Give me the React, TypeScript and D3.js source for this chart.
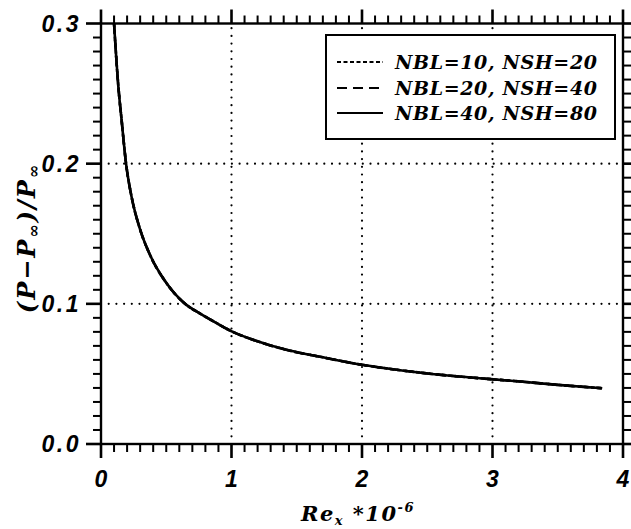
import React from "react";
import * as d3 from "d3";

// Re_x * 1e-6 values and (P - Pinf)/Pinf
const rex = [0.10, 0.133, 0.158, 0.192, 0.235, 0.30, 0.375, 0.50, 0.644, 0.76, 0.89, 1.01, 1.17, 1.42, 1.68, 2.0, 2.32, 2.7, 3.01, 3.21, 3.5, 3.84];
const cpNbl10 = [0.300, 0.255, 0.231, 0.200, 0.176, 0.153, 0.135, 0.115, 0.100, 0.093, 0.086, 0.080, 0.0742, 0.0672, 0.0622, 0.0565, 0.0523, 0.0485, 0.0461, 0.0446, 0.0422, 0.0398];
const cpNbl20 = [0.300, 0.255, 0.231, 0.200, 0.176, 0.153, 0.135, 0.115, 0.100, 0.093, 0.086, 0.080, 0.0742, 0.0672, 0.0622, 0.0565, 0.0523, 0.0485, 0.0461, 0.0446, 0.0422, 0.0398];
const cpNbl40 = [0.300, 0.255, 0.231, 0.200, 0.176, 0.153, 0.135, 0.115, 0.100, 0.093, 0.086, 0.080, 0.0742, 0.0672, 0.0622, 0.0565, 0.0523, 0.0485, 0.0461, 0.0446, 0.0422, 0.0398];

const seriesNames = ["NBL=10, NSH=20", "NBL=20, NSH=40", "NBL=40, NSH=80"];
const seriesDash = ["4,2.5", "10,6", ""];

const xTicks = [0, 1, 2, 3, 4];
const xTickLabels = ["0", "1", "2", "3", "4"];
const yTicks = [0.0, 0.1, 0.2, 0.3];
const yTickLabels = ["0.0", "0.1", "0.2", "0.3"];

const W = 631, H = 529;
const L = 101, R = 623, T = 23.5, B = 444;

export default function App() {
  const xs = d3.scaleLinear().domain([0, 4]).range([L, R]);
  const ys = d3.scaleLinear().domain([0, 0.3]).range([B, T]);
  const lineGen = d3
    .line<[number, number]>()
    .x((d) => xs(d[0]))
    .y((d) => ys(d[1]))
    .curve(d3.curveMonotoneX);
  const series = [cpNbl10, cpNbl20, cpNbl40].map((arr) => rex.map((v, i) => [v, arr[i]] as [number, number]));

  const xMinor = xs.ticks(40);
  const yMinor = ys.ticks(30);

  const tickRects: any[] = [];
  xMinor.forEach((v, i) => {
    const major = i % 10 === 0;
    const len = major ? 14 : 8;
    const w = major ? 2.6 : 2;
    const px = xs(v);
    tickRects.push(<rect key={"xb" + i} x={px - w / 2} y={B} width={w} height={len} fill="#000" />);
    tickRects.push(<rect key={"xt" + i} x={px - w / 2} y={T - len} width={w} height={len} fill="#000" />);
  });
  yMinor.forEach((v, i) => {
    const major = i % 10 === 0;
    const len = major ? 15 : 8;
    const w = major ? 2.6 : 2;
    const py = ys(v);
    tickRects.push(<rect key={"yl" + i} x={L - len} y={py - w / 2} width={len} height={w} fill="#000" />);
    tickRects.push(<rect key={"yr" + i} x={R} y={py - w / 2} width={len} height={w} fill="#000" />);
  });

  const tickFont = "'Liberation Sans', Arial, sans-serif";
  const serif = "'DejaVu Serif', serif";

  const legX = 326, legY = 35, legW = 289, legH = 104;
  const rowY = [62, 88, 113];

  return (
    <svg width={W} height={H} style={{ position: "absolute", left: 0, top: 0 }}>
      {/* grid */}
      {xTicks.filter((v) => v > 0 && v < 4).map((v) => (
        <line key={"gx" + v} x1={xs(v)} x2={xs(v)} y1={B} y2={T} stroke="#000" strokeWidth={2.2} strokeDasharray="0,7.7" strokeLinecap="round" />
      ))}
      {yTicks.filter((v) => v > 0 && v < 0.3).map((v) => (
        <line key={"gy" + v} x1={L} x2={R} y1={ys(v)} y2={ys(v)} stroke="#000" strokeWidth={2.2} strokeDasharray="0,7.7" strokeLinecap="round" />
      ))}
      {/* series */}
      {series.map((s, i) => (
        <path key={"s" + i} d={lineGen(s) || ""} fill="none" stroke="#000" strokeWidth={2.6} strokeDasharray={seriesDash[i] || undefined} />
      ))}
      {/* frame */}
      <rect x={L} y={T} width={R - L} height={B - T} fill="none" stroke="#000" strokeWidth={2.4} />
      {/* ticks */}
      <g>{tickRects}</g>
      {/* tick labels */}
      {xTicks.map((v, i) => (
        <text key={"xl" + i} x={xs(v)} y={487} textAnchor="middle" fontFamily={tickFont} fontWeight="bold" fontStyle="italic" fontSize={23}>
          {xTickLabels[i]}
        </text>
      ))}
      {yTicks.map((v, i) => (
        <text key={"ylab" + i} x={81} y={ys(v) + 8.3} textAnchor="end" fontFamily={tickFont} fontWeight="bold" fontStyle="italic" fontSize={23} letterSpacing={2.5}>
          {yTickLabels[i]}
        </text>
      ))}
      {/* axis titles */}
      <text x={358} y={521} textAnchor="middle" fontFamily={serif} fontStyle="italic" fontWeight="bold" fontSize={21} letterSpacing={1.5}>
        <tspan>Re</tspan>
        <tspan fontSize={13} dy={4}>x</tspan>
        <tspan dy={-4}> *10</tspan>
        <tspan fontSize={13} dy={-9}>-6</tspan>
      </text>
      <text transform={`translate(35,238) rotate(-90)`} textAnchor="middle" fontFamily={serif} fontStyle="italic" fontWeight="bold" fontSize={24} letterSpacing={2}>
        <tspan>(P−P</tspan>
        <tspan fontSize={16} dy={4}>∞</tspan>
        <tspan dy={-4}>)/P</tspan>
        <tspan fontSize={16} dy={4}>∞</tspan>
      </text>
      {/* legend */}
      <rect x={legX} y={legY} width={legW} height={legH} fill="#fff" stroke="#000" strokeWidth={2} />
      {seriesNames.map((n, i) => (
        <g key={"lg" + i}>
          <line x1={337} x2={383} y1={rowY[i]} y2={rowY[i]} stroke="#000" strokeWidth={2.2} strokeDasharray={seriesDash[i] || undefined} />
          <text x={395} y={rowY[i] + 7} fontFamily={serif} fontStyle="italic" fontWeight="bold" fontSize={19} textLength={202} lengthAdjust="spacing">
            {n}
          </text>
        </g>
      ))}
    </svg>
  );
}
